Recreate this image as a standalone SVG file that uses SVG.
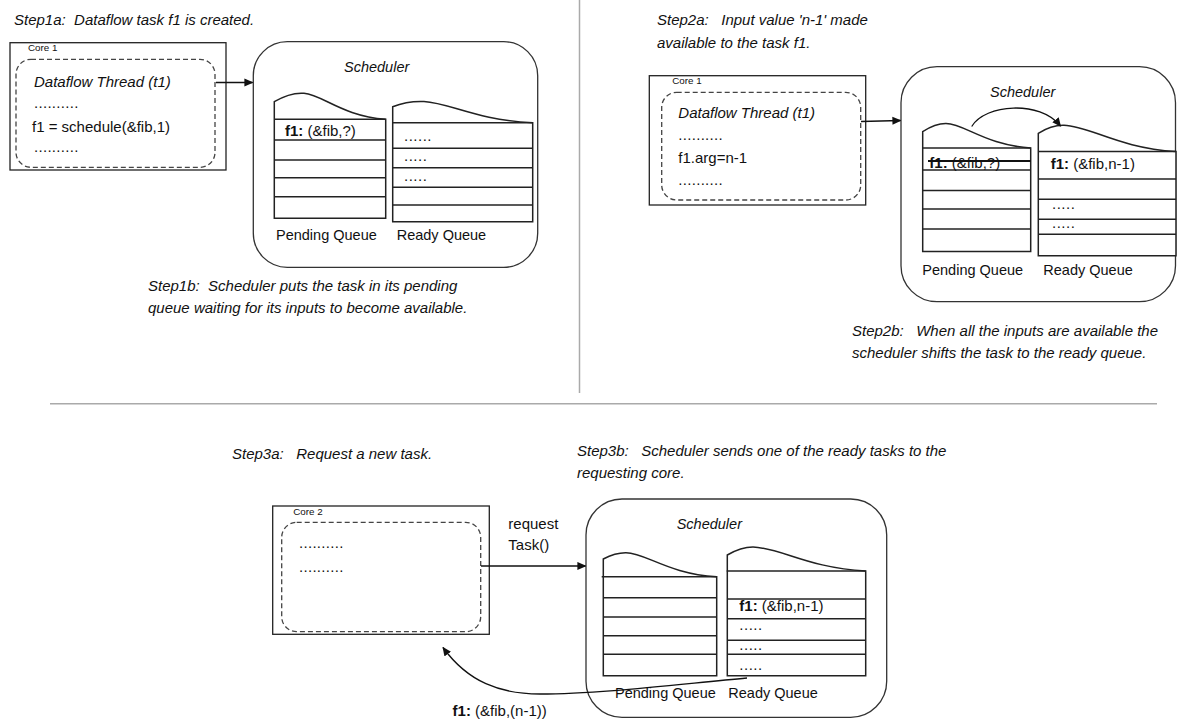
<svg xmlns="http://www.w3.org/2000/svg" width="1177" height="720" viewBox="0 0 1177 720">
  <defs>
    <style>
      text { font-family: "Liberation Sans", Arial, sans-serif; font-size: 15px; fill: #111; }
      .step { font-style: italic; white-space: pre; }
      .it { font-style: italic; }
      .sched-title { font-style: italic; font-size: 14.5px; }
      .qlabel { font-size: 14.5px; }
      .core-label { font-size: 9.8px; }
      .b { font-weight: bold; }
      .core { fill: #fff; stroke: #222; stroke-width: 1.3; }
      .thread { fill: none; stroke: #444; stroke-width: 1.3; stroke-dasharray: 5 3; }
      .sched { fill: #fff; stroke: #333; stroke-width: 1.3; }
      .queue { fill: #fff; stroke: #222; stroke-width: 1.5; }
      .row { stroke: #222; stroke-width: 1.5; }
      .link { fill: none; stroke: #111; stroke-width: 1.3; }
      .sep { stroke: #aaa; stroke-width: 1.5; }
    </style>
    <marker id="arrow" viewBox="0 0 10 10" refX="9" refY="5" markerWidth="9" markerHeight="9" markerUnits="userSpaceOnUse" orient="auto">
      <path d="M0,0.5 L10,5 L0,9.5 Z" fill="#111"/>
    </marker>
  </defs>

  <rect width="1177" height="720" fill="#fff"/>

  <!-- panel separators -->
  <g id="separators">
    <line class="sep" x1="579.5" y1="0" x2="579.5" y2="393"/>
    <line class="sep" x1="50" y1="403.7" x2="1157" y2="403.7"/>
  </g>

  <!-- step captions -->
  <g id="captions">
    <text class="step" x="14" y="25">Step1a:&#160; Dataflow task f1 is created.</text>
    <text class="step" x="148" y="291">Step1b:&#160; Scheduler puts the task in its pending</text>
    <text class="step" x="148" y="313">queue waiting for its inputs to become available.</text>
    <text class="step" x="657" y="25">Step2a:&#160;&#160; Input value 'n-1' made</text>
    <text class="step" x="657" y="48">available to the task f1.</text>
    <text class="step" x="852" y="336">Step2b:&#160;&#160; When all the inputs are available the</text>
    <text class="step" x="852" y="358">scheduler shifts the task to the ready queue.</text>
    <text class="step" x="232" y="459">Step3a:&#160;&#160; Request a new task.</text>
    <text class="step" x="577" y="456">Step3b:&#160;&#160; Scheduler sends one of the ready tasks to the</text>
    <text class="step" x="577" y="478">requesting core.</text>
  </g>

  <!-- step 1: core 1 -->
  <g id="core1-step1">
    <rect class="core" x="10" y="42.7" width="216" height="127.3"/>
    <text class="core-label" x="28" y="51">Core 1</text>
    <rect class="thread" x="16" y="59.3" width="199" height="108" rx="15" ry="15"/>
    <text class="it" x="34" y="86.7">Dataflow Thread (t1)</text>
    <text x="34" y="108" letter-spacing="0.3">..........</text>
    <text x="32" y="131.7">f1 = schedule(&amp;fib,1)</text>
    <text x="34" y="152" letter-spacing="0.3">..........</text>
  </g>

  <!-- step 1: scheduler -->
  <g id="scheduler-step1">
    <rect class="sched" x="253.3" y="41.7" width="284.4" height="225.6" rx="34" ry="34"/>
    <text class="sched-title" x="344" y="71.7">Scheduler</text>
    <g id="pending-step1">
      <path class="queue" d="M274.3,218.3 V101.7 C284,96 294,92.5 304,93.3 C323,95 342,116 385.7,119.3 V218.3 Z"/>
      <line class="row" x1="274.3" y1="119.3" x2="385.7" y2="119.3"/>
      <line class="row" x1="274.3" y1="140" x2="385.7" y2="140"/>
      <line class="row" x1="274.3" y1="160" x2="385.7" y2="160"/>
      <line class="row" x1="274.3" y1="177.7" x2="385.7" y2="177.7"/>
      <line class="row" x1="274.3" y1="196.7" x2="385.7" y2="196.7"/>
      <text x="285" y="136"><tspan class="b">f1:</tspan> (&amp;fib,?)</text>
      <text class="qlabel" x="276" y="240">Pending Queue</text>
    </g>
    <g id="ready-step1">
      <path class="queue" d="M392.7,221.7 V106.7 C402,103 412,101 424,101.5 C450,103 476,120 532.7,122.7 V221.7 Z"/>
      <line class="row" x1="392.7" y1="122.7" x2="532.7" y2="122.7"/>
      <line class="row" x1="392.7" y1="148.3" x2="532.7" y2="148.3"/>
      <line class="row" x1="392.7" y1="167.7" x2="532.7" y2="167.7"/>
      <line class="row" x1="392.7" y1="187.3" x2="532.7" y2="187.3"/>
      <line class="row" x1="392.7" y1="205" x2="532.7" y2="205"/>
      <text x="404" y="141" letter-spacing="0.5">......</text>
      <text x="404" y="161" letter-spacing="0.5">.....</text>
      <text x="404" y="181" letter-spacing="0.5">.....</text>
      <text class="qlabel" x="396.7" y="240">Ready Queue</text>
    </g>
  </g>

  <!-- step 2: core 1 -->
  <g id="core1-step2">
    <rect class="core" x="649.3" y="75.7" width="216.4" height="129.3"/>
    <text class="core-label" x="672.3" y="83.5">Core 1</text>
    <rect class="thread" x="661.7" y="92.3" width="199" height="107.7" rx="15" ry="15"/>
    <text class="it" x="678.3" y="118.3">Dataflow Thread (t1)</text>
    <text x="678.3" y="140" letter-spacing="0.3">..........</text>
    <text x="678.3" y="163.3">f1.arg=n-1</text>
    <text x="678.3" y="185" letter-spacing="0.3">..........</text>
  </g>

  <!-- step 2: scheduler -->
  <g id="scheduler-step2">
    <rect class="sched" x="901" y="66.7" width="274.5" height="235" rx="36" ry="36"/>
    <text class="sched-title" x="990" y="96.7">Scheduler</text>
    <g id="pending-step2">
      <path class="queue" d="M922.7,251.5 V131.7 C930,127 937,123.5 946,123.6 C965,124 985,145 1030.7,148 V251.5 Z"/>
      <line class="row" x1="922.7" y1="148" x2="1030.7" y2="148"/>
      <line class="row" x1="922.7" y1="170" x2="1030.7" y2="170"/>
      <line class="row" x1="922.7" y1="190.5" x2="1030.7" y2="190.5"/>
      <line class="row" x1="922.7" y1="209" x2="1030.7" y2="209"/>
      <line class="row" x1="922.7" y1="229" x2="1030.7" y2="229"/>
      <text x="929.3" y="168.3"><tspan class="b">f1:</tspan> (&amp;fib,?)</text>
      <line x1="928" y1="161" x2="1030.7" y2="161" stroke="#111" stroke-width="2"/>
      <text class="qlabel" x="922.3" y="275">Pending Queue</text>
    </g>
    <g id="ready-step2">
      <path class="queue" d="M1038.3,255.7 V133.3 C1046,128.5 1054,125 1064,125.3 C1090,126 1118,148 1176,151.5 V255.7 Z"/>
      <line class="row" x1="1038.3" y1="151.5" x2="1176" y2="151.5"/>
      <line class="row" x1="1038.3" y1="179" x2="1176" y2="179"/>
      <line class="row" x1="1038.3" y1="199.3" x2="1176" y2="199.3"/>
      <line class="row" x1="1038.3" y1="219.3" x2="1176" y2="219.3"/>
      <line class="row" x1="1038.3" y1="234.3" x2="1176" y2="234.3"/>
      <text x="1050.7" y="169.3"><tspan class="b">f1:</tspan> (&amp;fib,n-1)</text>
      <text x="1052" y="208.5" letter-spacing="0.5">.....</text>
      <text x="1052" y="228" letter-spacing="0.5">.....</text>
      <text class="qlabel" x="1043.3" y="275">Ready Queue</text>
    </g>
  </g>

  <!-- step 3: core 2 -->
  <g id="core2-step3">
    <rect class="core" x="272.7" y="506" width="216.6" height="128.3"/>
    <text class="core-label" x="293.3" y="515">Core 2</text>
    <rect class="thread" x="281.7" y="522.3" width="199" height="109.4" rx="15" ry="15"/>
    <text x="299" y="548.3" letter-spacing="0.3">..........</text>
    <text x="299" y="571.7" letter-spacing="0.3">..........</text>
  </g>

  <!-- step 3: scheduler -->
  <g id="scheduler-step3">
    <rect class="sched" x="586" y="499" width="300.7" height="218.3" rx="36" ry="36"/>
    <text class="sched-title" x="676.7" y="529.3">Scheduler</text>
    <g id="pending-step3">
      <path class="queue" d="M603.3,675.7 V559 C610,555.5 617,552.7 626,552.8 C646,553 668,574 716.7,576.7 V675.7 Z"/>
      <line class="row" x1="601.7" y1="576.7" x2="716.7" y2="576.7"/>
      <line class="row" x1="603.3" y1="597.7" x2="716.7" y2="597.7"/>
      <line class="row" x1="603.3" y1="617" x2="716.7" y2="617"/>
      <line class="row" x1="603.3" y1="635.7" x2="716.7" y2="635.7"/>
      <line class="row" x1="603.3" y1="654.3" x2="716.7" y2="654.3"/>
      <text class="qlabel" x="615" y="698.3">Pending Queue</text>
    </g>
    <g id="ready-step3">
      <path class="queue" d="M727.3,675.7 V555 C735,550.5 743,547 753,547 C780,547.5 808,568 865.7,571 V675.7 Z"/>
      <line class="row" x1="726.7" y1="571" x2="865.7" y2="571"/>
      <line class="row" x1="727.3" y1="599" x2="865.7" y2="599"/>
      <line class="row" x1="727.3" y1="618.7" x2="865.7" y2="618.7"/>
      <line class="row" x1="727.3" y1="640.3" x2="865.7" y2="640.3"/>
      <line class="row" x1="727.3" y1="654.3" x2="865.7" y2="654.3"/>
      <text x="739.3" y="610.7"><tspan class="b">f1:</tspan> (&amp;fib,n-1)</text>
      <text x="739.3" y="630" letter-spacing="0.5">.....</text>
      <text x="739.3" y="650" letter-spacing="0.5">.....</text>
      <text x="739.3" y="669.5" letter-spacing="0.5">.....</text>
      <text class="qlabel" x="728.3" y="698.3">Ready Queue</text>
    </g>
  </g>

  <!-- connectors -->
  <g id="connectors">
    <line class="link" x1="216" y1="82.5" x2="252.5" y2="82.5" marker-end="url(#arrow)"/>
    <line class="link" x1="861" y1="121.5" x2="900.5" y2="120.5" marker-end="url(#arrow)"/>
    <path class="link" d="M971.7,126.5 C985,104 1040,100 1060.5,126" marker-end="url(#arrow)"/>
    <line class="link" x1="481" y1="566" x2="585.5" y2="566" marker-end="url(#arrow)"/>
    <path class="link" d="M747,678 C680,684 600,694 540,694 C500,694 468,682 443,647.5" marker-end="url(#arrow)"/>
    <text x="508.3" y="529.3">request</text>
    <text x="508.3" y="550">Task()</text>
    <text x="452.6" y="716"><tspan class="b">f1:</tspan> (&amp;fib,(n-1))</text>
  </g>
</svg>
